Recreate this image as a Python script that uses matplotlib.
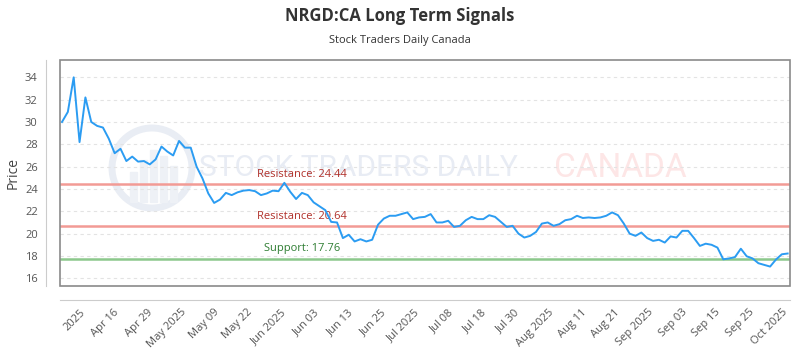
import numpy as np
import matplotlib
matplotlib.use('Agg')
import matplotlib.pyplot as plt
from matplotlib.patches import Rectangle, Ellipse

# daily closes (trading days, ordinal axis)
prices = [30.0, 30.9, 34.0, 28.2, 32.2, 30.0, 29.65, 29.5, 28.5, 27.2,
          27.6, 26.5, 26.9, 26.45, 26.5, 26.2, 26.65, 27.8, 27.35, 27.0,
          28.3, 27.7, 27.7, 26.0, 24.95, 23.6, 22.75, 23.05, 23.65, 23.45,
          23.7, 23.85, 23.9, 23.8, 23.45, 23.6, 23.85, 23.8, 24.55, 23.75,
          23.1, 23.65, 23.45, 22.8, 22.45, 22.1, 21.05, 21.0, 19.6, 19.9,
          19.3, 19.5, 19.3, 19.45, 20.8, 21.35, 21.6, 21.6, 21.75, 21.9,
          21.3, 21.45, 21.5, 21.75, 21.0, 21.0, 21.15, 20.6, 20.7, 21.2,
          21.5, 21.3, 21.3, 21.65, 21.5, 21.05, 20.6, 20.7, 20.0, 19.65,
          19.8, 20.15, 20.9, 21.0, 20.7, 20.85, 21.2, 21.3, 21.6, 21.4,
          21.45, 21.4, 21.45, 21.6, 21.9, 21.65, 20.9, 20.0, 19.8, 20.1,
          19.6, 19.35, 19.45, 19.2, 19.75, 19.65, 20.25, 20.25, 19.6, 18.9,
          19.1, 19.0, 18.75, 17.7, 17.78, 17.9, 18.65, 17.97, 17.78, 17.35,
          17.2, 17.05, 17.68, 18.15, 18.22]

tick_labels = ['2025', 'Apr 16', 'Apr 29', 'May 2025', 'May 09', 'May 22',
               'Jun 2025', 'Jun 03', 'Jun 13', 'Jun 25', 'Jul 2025', 'Jul 08',
               'Jul 18', 'Jul 30', 'Aug 2025', 'Aug 11', 'Aug 21', 'Sep 2025',
               'Sep 03', 'Sep 15', 'Sep 25', 'Oct 2025']

resistance = [24.44, 20.64]
support = [17.76]
yticks = [16, 18, 20, 22, 24, 26, 28, 30, 32, 34]

plt.rcParams['font.family'] = ['Open Sans', 'DejaVu Sans']

fig = plt.figure(figsize=(8, 3.5), dpi=100)
ax = fig.add_axes([60 / 800, 1 - 286 / 350, 730 / 800, 226 / 350])

x = np.arange(len(prices))
ax.set_xlim(-0.34, len(prices) - 1 + 0.4)
ax.set_ylim(15.31, 35.55)

# gridlines
ax.set_yticks(yticks)
ax.yaxis.grid(True, color='#e3e3e3', linestyle=(0, (3, 3)), linewidth=0.8)
ax.set_axisbelow(True)

# watermark
ax.add_patch(Ellipse((92 / 730, 118 / 226), 80 / 730, 80 / 226, transform=ax.transAxes,
                     fill=False, edgecolor='#e9edf4', lw=5, zorder=0))
for bx, bh in [(70, 30), (80, 42), (90, 52), (100, 46), (110, 36)]:
    ax.add_patch(Rectangle((bx / 730, 84 / 226), 7 / 730, bh / 226, transform=ax.transAxes,
                           color='#eef1f6', zorder=0))
ax.text(298 / 730, 118 / 226, 'STOCK TRADERS DAILY', transform=ax.transAxes,
        ha='center', va='center', fontsize=21.5, color='#e8ecf4',
        family=['Roboto', 'DejaVu Sans'], zorder=0)
ax.text(560 / 730, 118 / 226, 'CANADA', transform=ax.transAxes,
        ha='center', va='center', fontsize=24, color='#fde6e6',
        family=['Roboto', 'DejaVu Sans'], zorder=0)

# levels
for r in resistance:
    ax.axhline(r, color='#f29b95', lw=1.8, zorder=2)
    ax.annotate('Resistance: %.2f' % r, xy=(242 / 730, r), xycoords=('axes fraction', 'data'),
                xytext=(0, 3), textcoords='offset points', ha='center', va='bottom',
                fontsize=8, color='#b0302a')
for s in support:
    ax.axhline(s, color='#8cc88c', lw=1.8, zorder=2)
    ax.annotate('Support: %.2f' % s, xy=(242 / 730, s), xycoords=('axes fraction', 'data'),
                xytext=(0, 3), textcoords='offset points', ha='center', va='bottom',
                fontsize=8, color='#2e7d32')

ax.plot(x, prices, color='#2b9cf2', lw=1.4, zorder=3)

# axes styling: plot box plus offset axis lines
for side in ['top', 'right']:
    ax.spines[side].set_visible(False)
for side in ['left', 'bottom']:
    ax.spines[side].set_position(('outward', 10))
    ax.spines[side].set_color('#cccccc')
ax.add_patch(Rectangle((0, 0), 1, 1, transform=ax.transAxes, fill=False,
                       edgecolor='#8a8a8a', lw=1.2, zorder=4, clip_on=False))

tick_pos = np.linspace(3.1, 123.0, len(tick_labels))
ax.set_xticks(tick_pos)
ax.set_xticklabels(tick_labels, rotation=45, ha='right', rotation_mode='anchor')
ax.tick_params(axis='both', length=0, labelsize=8, labelcolor='#555555')
ax.tick_params(axis='y', pad=6)
ax.tick_params(axis='x', pad=5)
ax.set_ylabel('Price', fontsize=10, color='#444444', labelpad=3)

fig.text(0.5, 1 - 16 / 350, 'NRGD:CA Long Term Signals', ha='center', va='center',
         fontsize=12, fontweight='bold', color='#333333')
fig.text(0.5, 1 - 40 / 350, 'Stock Traders Daily Canada', ha='center', va='center',
         fontsize=8, color='#333333')

fig.savefig('out.png', dpi=100)
